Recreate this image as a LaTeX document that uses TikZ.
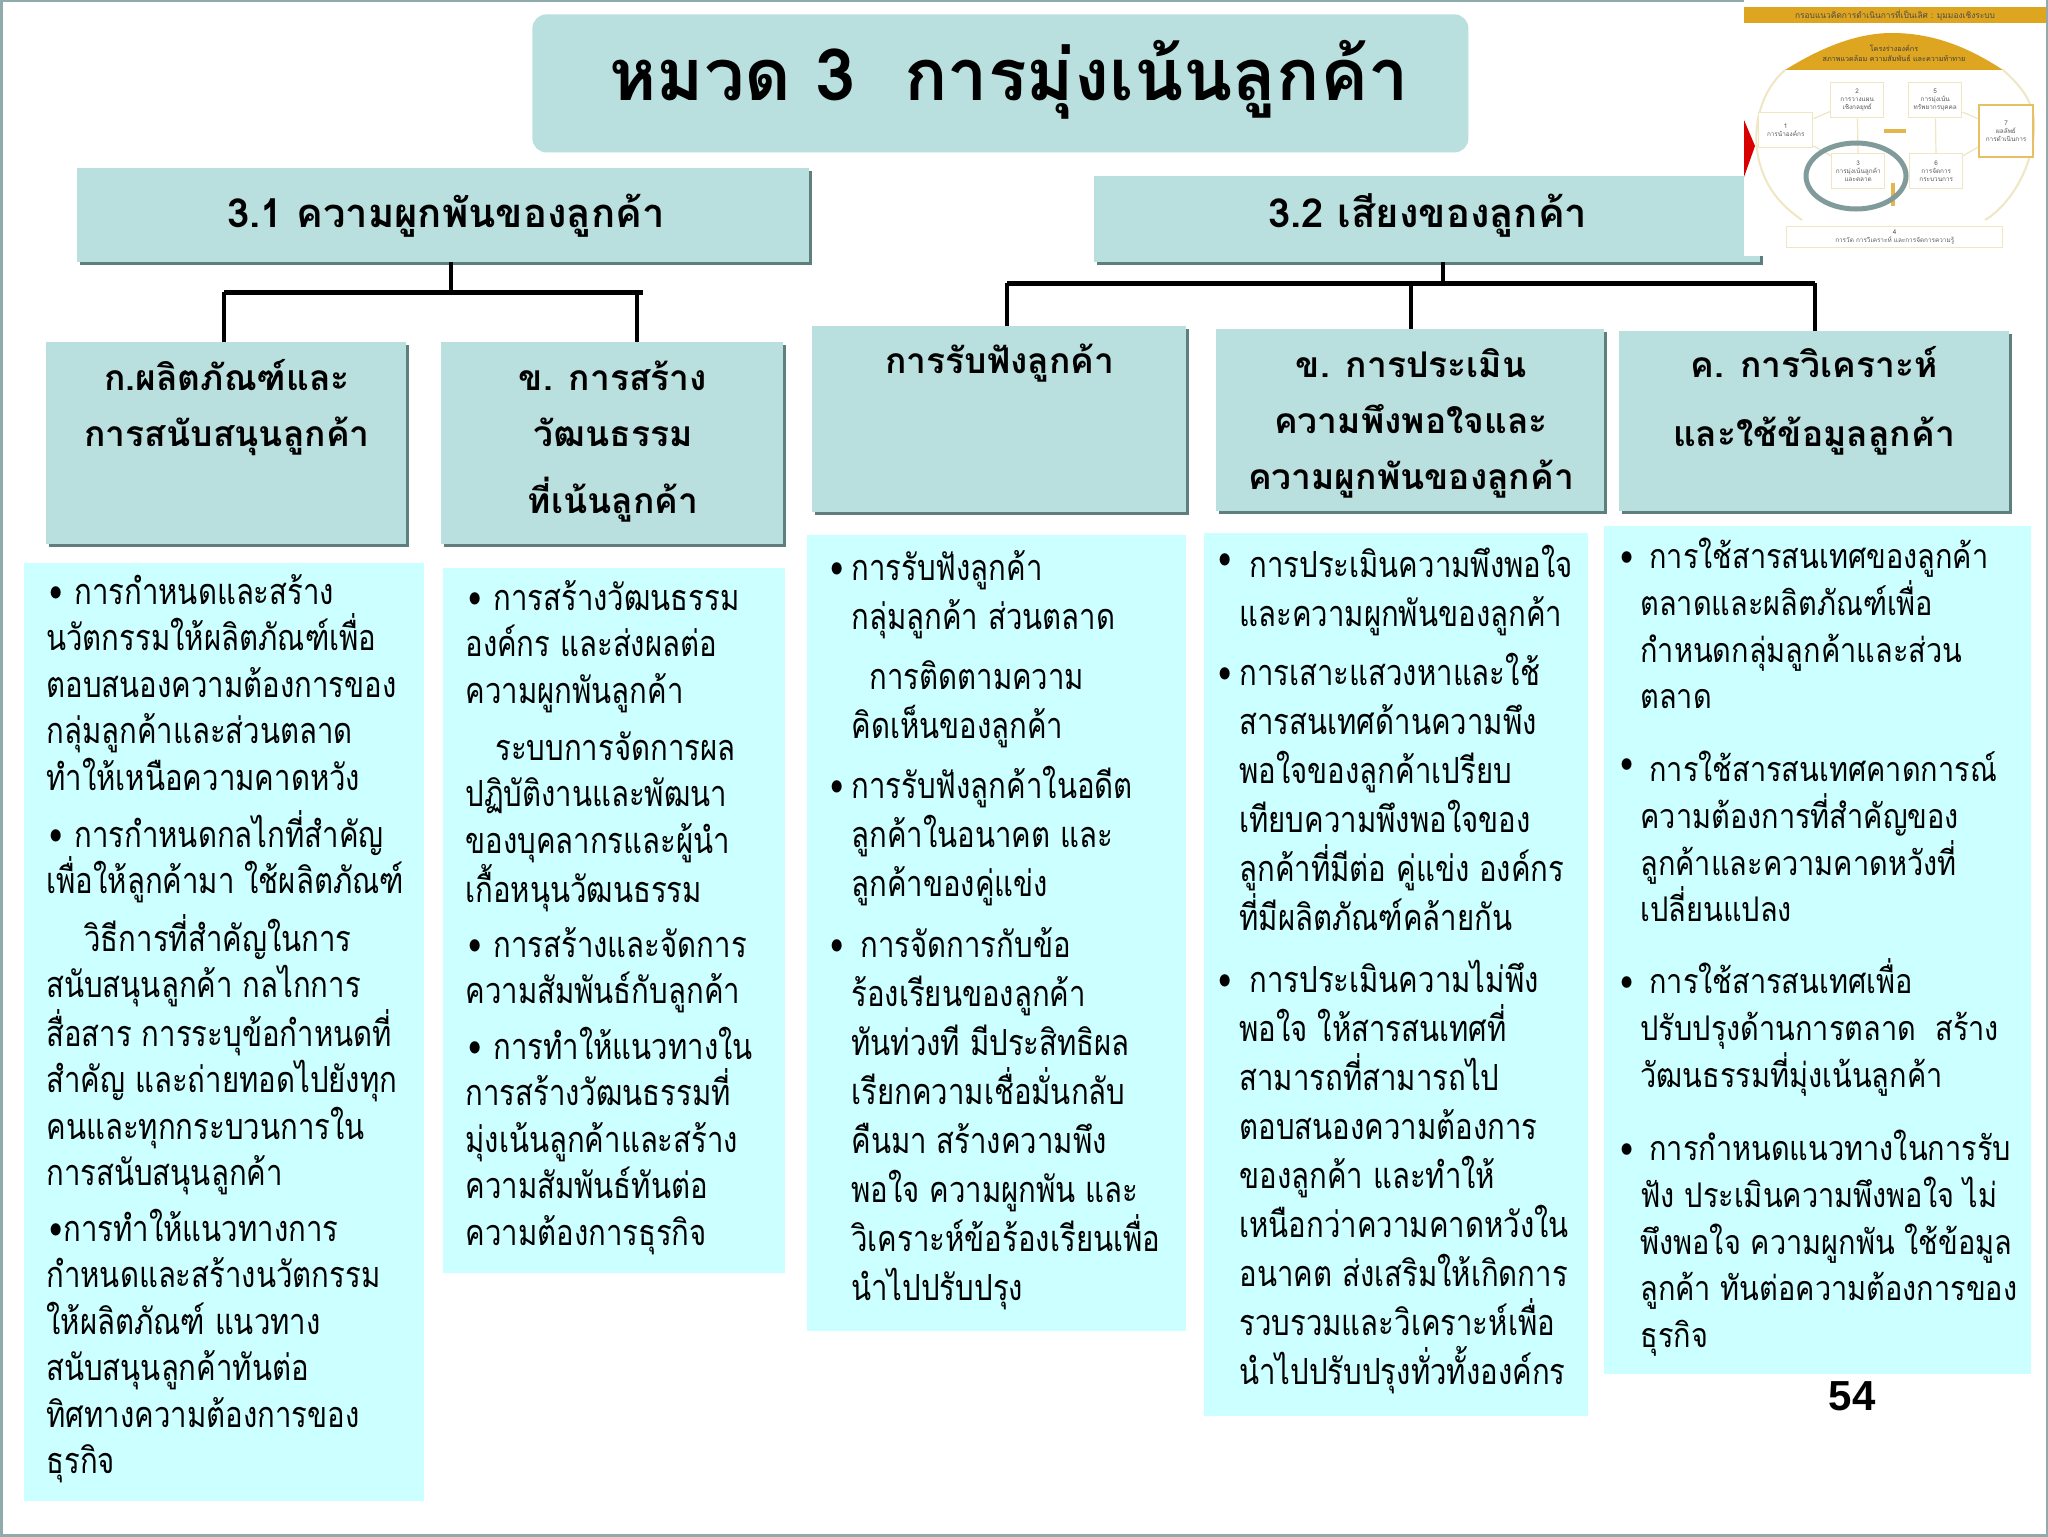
\documentclass[tikz,border=0pt]{standalone}
\usepackage{fontspec}
\setmainfont[Script=Thai]{Loma}
\newfontfamily\bodyfont[Script=Thai,FakeStretch=0.815]{Loma}
\newfontfamily\widefont[Script=Thai,FakeStretch=0.85]{Loma}
\newfontfamily\numfont{Liberation Sans}
\usetikzlibrary{shadows}

\definecolor{headfill}{HTML}{B9DFDF}
\definecolor{bodyfill}{HTML}{CCFFFF}
\definecolor{edgegrey}{HTML}{5F7F7F}
\definecolor{framegrey}{HTML}{8FABAB}
\definecolor{thumbgold}{HTML}{DDA520}
\definecolor{thumbline}{HTML}{EFE6C4}

\newcommand{\topln}{\rule{0pt}{20pt}}
\newcommand{\bul}[1]{\makebox[#1][l]{\hspace{1.5pt}\textbullet}}
\newcommand{\hangbul}[1][0pt]{\llap{\raisebox{#1}{\textbullet}\hspace{3.5pt}}}

\tikzset{
	headbox/.style={fill=headfill,anchor=north west,inner sep=0pt,outer sep=0pt,drop shadow={shadow xshift=1.5pt,shadow yshift=-1.5pt,fill=edgegrey,opacity=1}},
	bodybox/.style={fill=bodyfill,anchor=north west,inner sep=0pt,outer sep=0pt},
	headtxt/.style={font=\fontsize{17.7}{#1}\selectfont\bfseries,align=center,anchor=north,inner sep=0pt,yshift=20pt},
	headtxt/.default=28,
	toptxt/.style={font=\fontsize{20}{24}\selectfont\bfseries,inner sep=0pt,anchor=base},
	bodytxt/.style={font=\bodyfont\fontsize{18}{#1}\selectfont,align=left,anchor=north west,inner sep=0pt,yshift=20pt},
	bodytxt/.default=23.2,
	widetxt/.style={font=\widefont\fontsize{17}{23.4}\selectfont,align=left,anchor=north west,inner sep=0pt,yshift=20pt},
	linkline/.style={line width=2pt,black},
	barline/.style={line width=2.5pt,black},
	thumbbox/.style={draw=thumbline,fill=white,line width=0.7pt,anchor=north west,inner sep=0pt,align=center,font=\fontsize{3.2}{4}\selectfont,text=black!65},
}

\begin{document}
\begin{tikzpicture}[x=0.5pt,y=-0.5pt]
	\useasboundingbox (0,0) rectangle (2048,1536);
	\fill[white] (0,0) rectangle (2048,1536);
	\draw[framegrey,line width=1.5pt] (1,1) rectangle (2047,1535);

	\node[fill=headfill,rounded corners=7pt,anchor=north west,minimum width=468pt,minimum height=69pt,inner sep=0pt] (title) at (532,14) {};
	\node[font=\fontsize{36}{40}\selectfont\bfseries] (titletxt) at (1009,80) {หมวด 3~~การมุ่งเน้นลูกค้า};

	\node[headbox,minimum width=366pt,minimum height=47pt] (box31) at (77,168) {};
	\node[headbox,minimum width=333pt,minimum height=43pt] (box32) at (1094,176) {};
	\node[headbox,minimum width=180pt,minimum height=101pt] (boxa) at (46,342) {};
	\node[headbox,minimum width=171pt,minimum height=101pt] (boxb) at (441,342) {};
	\node[headbox,minimum width=187pt,minimum height=93pt] (boxc) at (812,326) {};
	\node[headbox,minimum width=194pt,minimum height=91pt] (boxd) at (1216,329) {};
	\node[headbox,minimum width=195pt,minimum height=90pt] (boxe) at (1619,331) {};

	\node[toptxt] (box31txt) at (446,227) {3.1 ความผูกพันของลูกค้า};
	\node[toptxt] (box32txt) at (1428,227) {3.2 เสียงของลูกค้า};
	\node[headtxt] (boxatxt) at (227,390) {\topln ก.ผลิตภัณฑ์และ\\การสนับสนุนลูกค้า};
	\node[headtxt] (boxbtxt) at (613,390) {\topln ข. การสร้าง\\วัฒนธรรม\\[5.5pt]ที่เน้นลูกค้า};
	\node[headtxt] (boxctxt) at (1000,373) {\topln การรับฟังลูกค้า};
	\node[headtxt] (boxdtxt) at (1411,377) {\topln ข. การประเมิน\\ความพึงพอใจและ\\ความผูกพันของลูกค้า};
	\node[headtxt=34.5] (boxetxt) at (1814,377) {\topln ค. การวิเคราะห์\\และใช้ข้อมูลลูกค้า};

	\coordinate (bar31l) at (224,292);
	\coordinate (bar31m) at (451,292);
	\coordinate (bar31r) at (643,292);
	\coordinate (bar31d) at (637,292);
	\coordinate (bar32l) at (1007,283);
	\coordinate (bar32m) at (1443,283);
	\coordinate (bar32d) at (1411,283);
	\coordinate (bar32r) at (1815,283);

	\path[barline] (bar31l) edge (bar31r);
	\path[barline] (bar32l) edge (bar32r);
	\path[linkline] (box31.south -| bar31m) edge (bar31m);
	\path[linkline] (bar31l) edge (bar31l |- boxa.north);
	\path[linkline] (bar31d) edge (bar31d |- boxb.north);
	\path[linkline] (box32.south -| bar32m) edge (bar32m);
	\path[linkline] (bar32l) edge (bar32l |- boxc.north);
	\path[linkline] (bar32d) edge (bar32d |- boxd.north);
	\path[linkline] (bar32r) edge (bar32r |- boxe.north);

	\node[bodybox,minimum width=200pt,minimum height=469pt] (cola) at (24,563) {};
	\node[bodybox,minimum width=171pt,minimum height=352.5pt] (colb) at (443,568) {};
	\node[bodybox,minimum width=189.5pt,minimum height=398pt] (colc) at (807,535) {};
	\node[bodybox,minimum width=192pt,minimum height=441.5pt] (cold) at (1204,533) {};
	\node[bodybox,minimum width=213.5pt,minimum height=424pt] (cole) at (1604,526) {};

	\node[bodytxt] (a1) at (46,604) {\topln\bul{14pt}การกำหนดและสร้าง\\นวัตกรรมให้ผลิตภัณฑ์เพื่อ\\ตอบสนองความต้องการของ\\กลุ่มลูกค้าและส่วนตลาด\\ทำให้เหนือความคาดหวัง};
	\node[bodytxt] (a2) at (46,847) {\topln\bul{14pt}การกำหนดกลไกที่สำคัญ\\เพื่อให้ลูกค้ามา ใช้ผลิตภัณฑ์};
	\node[bodytxt] (a3) at (46,951) {\topln\hspace*{19pt}วิธีการที่สำคัญในการ\\สนับสนุนลูกค้า กลไกการ\\สื่อสาร การระบุข้อกำหนดที่\\สำคัญ และถ่ายทอดไปยังทุก\\คนและทุกกระบวนการใน\\การสนับสนุนลูกค้า};
	\node[bodytxt] (a4) at (46,1241) {\topln\bul{8.5pt}การทำให้แนวทางการ\\กำหนดและสร้างนวัตกรรม\\ให้ผลิตภัณฑ์ แนวทาง\\สนับสนุนลูกค้าทันต่อ\\ทิศทางความต้องการของ\\ธุรกิจ};

	\node[bodytxt] (b1) at (465,610) {\topln\bul{14pt}การสร้างวัฒนธรรม\\องค์กร และส่งผลต่อ\\ความผูกพันลูกค้า};
	\node[bodytxt] (b2) at (465,760) {\topln\hspace*{15pt}ระบบการจัดการผล\\ปฏิบัติงานและพัฒนา\\ของบุคลากรและผู้นำ\\เกื้อหนุนวัฒนธรรม};
	\node[bodytxt] (b3) at (465,957) {\topln\bul{14pt}การสร้างและจัดการ\\ความสัมพันธ์กับลูกค้า};
	\node[bodytxt] (b4) at (465,1059) {\topln\bul{14pt}การทำให้แนวทางใน\\การสร้างวัฒนธรรมที่\\มุ่งเน้นลูกค้าและสร้าง\\ความสัมพันธ์ทันต่อ\\ความต้องการธุรกิจ};

	\node[bodytxt=24.5] (c1) at (851,580) {\topln\hangbul การรับฟังลูกค้า\\กลุ่มลูกค้า ส่วนตลาด};
	\node[bodytxt=24.5] (c2) at (851,689) {\topln\hspace*{9pt}การติดตามความ\\คิดเห็นของลูกค้า};
	\node[bodytxt=24.5] (c3) at (851,798) {\topln\hangbul การรับฟังลูกค้าในอดีต\\ลูกค้าในอนาคต และ\\ลูกค้าของคู่แข่ง};
	\node[bodytxt=24.5] (c4) at (851,957) {\topln\hangbul\hspace*{4.5pt}การจัดการกับข้อ\\ร้องเรียนของลูกค้า\\ทันท่วงที มีประสิทธิผล\\เรียกความเชื่อมั่นกลับ\\คืนมา สร้างความพึง\\พอใจ ความผูกพัน และ\\วิเคราะห์ข้อร้องเรียนเพื่อ\\นำไปปรับปรุง};

	\node[bodytxt=24.5] (d1) at (1239,577) {\topln\hangbul[3pt]\hspace*{5pt}การประเมินความพึงพอใจ\\และความผูกพันของลูกค้า};
	\node[bodytxt=24.5] (d2) at (1239,685) {\topln\hangbul การเสาะแสวงหาและใช้\\สารสนเทศด้านความพึง\\พอใจของลูกค้าเปรียบ\\เทียบความพึงพอใจของ\\ลูกค้าที่มีต่อ คู่แข่ง องค์กร\\ที่มีผลิตภัณฑ์คล้ายกัน};
	\node[bodytxt=24.5] (d3) at (1239,992) {\topln\hangbul\hspace*{5pt}การประเมินความไม่พึง\\พอใจ ให้สารสนเทศที่\\สามารถที่สามารถไป\\ตอบสนองความต้องการ\\ของลูกค้า และทำให้\\เหนือกว่าความคาดหวังใน\\อนาคต ส่งเสริมให้เกิดการ\\รวบรวมและวิเคราะห์เพื่อ\\นำไปปรับปรุงทั่วทั้งองค์กร};

	\node[widetxt] (e1) at (1640,568) {\topln\hangbul\hspace*{4.5pt}การใช้สารสนเทศของลูกค้า\\ตลาดและผลิตภัณฑ์เพื่อ\\กำหนดกลุ่มลูกค้าและส่วน\\ตลาด};
	\node[widetxt] (e2) at (1640,781) {\topln\hangbul[3pt]\hspace*{4.5pt}การใช้สารสนเทศคาดการณ์\\ความต้องการที่สำคัญของ\\ลูกค้าและความคาดหวังที่\\เปลี่ยนแปลง};
	\node[widetxt] (e3) at (1640,993) {\topln\hangbul\hspace*{4.5pt}การใช้สารสนเทศเพื่อ\\ปรับปรุงด้านการตลาด~~สร้าง\\วัฒนธรรมที่มุ่งเน้นลูกค้า};
	\node[widetxt] (e4) at (1640,1160) {\topln\hangbul\hspace*{4.5pt}การกำหนดแนวทางในการรับ\\ฟัง ประเมินความพึงพอใจ ไม่\\พึงพอใจ ความผูกพัน ใช้ข้อมูล\\ลูกค้า ทันต่อความต้องการของ\\ธุรกิจ};

	\node[font=\numfont\fontsize{21}{24}\selectfont\bfseries] (pageno) at (1852,1396) {54};

	\fill[white] (1744,0) rectangle (2046,256);
	\fill[red!85!black] (1744,120) -- (1755,146) -- (1744,177) -- cycle;
	\fill[thumbgold] (1744,7) rectangle (2046,23);
	\node[font=\fontsize{4.2}{5}\selectfont,text=black!70] (thumbtitle) at (1895,15) {กรอบแนวคิดการดำเนินการที่เป็นเลิศ : มุมมองเชิงระบบ};
	\draw[thumbline,line width=1pt] (1785,70) .. controls (1760,92) and (1754,125) .. (1757,150) .. controls (1762,185) and (1780,205) .. (1802,220);
	\draw[thumbline,line width=1pt] (2003,70) .. controls (2020,85) and (2032,100) .. (2034,120) .. controls (2036,165) and (2010,205) .. (1985,220);
	\fill[thumbgold] (1785,70) .. controls (1825,45) and (1860,33) .. (1892,33) .. controls (1930,33) and (1965,45) .. (2003,70) -- cycle;
	\node[font=\fontsize{3.6}{5}\selectfont,align=center,text=black!75] (thumbcap) at (1894,53) {โครงร่างองค์กร\\สภาพแวดล้อม ความสัมพันธ์ และความท้าทาย};
	\node[thumbbox,minimum width=27pt,minimum height=17.5pt] (t1) at (1758,112) {1\\การนำองค์กร};
	\node[thumbbox,minimum width=26.5pt,minimum height=17.5pt] (t2) at (1830,82) {2\\การวางแผน\\เชิงกลยุทธ์};
	\node[thumbbox,minimum width=26.5pt,minimum height=17.5pt] (t3) at (1831,153) {3\\การมุ่งเน้นลูกค้า\\และตลาด};
	\node[thumbbox,minimum width=108pt,minimum height=10.5pt] (t4) at (1786,226) {4\\การวัด การวิเคราะห์ และการจัดการความรู้};
	\node[thumbbox,minimum width=26.5pt,minimum height=17.5pt] (t5) at (1908,82) {5\\การมุ่งเน้น\\ทรัพยากรบุคคล};
	\node[thumbbox,minimum width=26.5pt,minimum height=17.5pt] (t6) at (1909,153) {6\\การจัดการ\\กระบวนการ};
	\node[thumbbox,draw=thumbgold!70!white,line width=1pt,minimum width=27pt,minimum height=26pt] (t7) at (1978,104) {7\\ผลลัพธ์\\การดำเนินการ};
	\coordinate (tmidl) at (1884,131);
	\coordinate (tmidr) at (1906,131);
	\coordinate (tlowt) at (1893,183);
	\coordinate (tlowb) at (1893,206);
	\path[thumbline,line width=0.6pt] (t1) edge (t2) (t1) edge (t3) (t2) edge (t3) (t5) edge (t6) (t5) edge (t7) (t6) edge (t7);
	\path[thumbgold!80!white,line width=2pt] (tmidl) edge (tmidr);
	\path[thumbgold!80!white,line width=2pt] (tlowt) edge (tlowb);
	\draw[framegrey!90!black,line width=2.5pt] (1856,176) ellipse (50 and 33);
\end{tikzpicture}
\end{document}
